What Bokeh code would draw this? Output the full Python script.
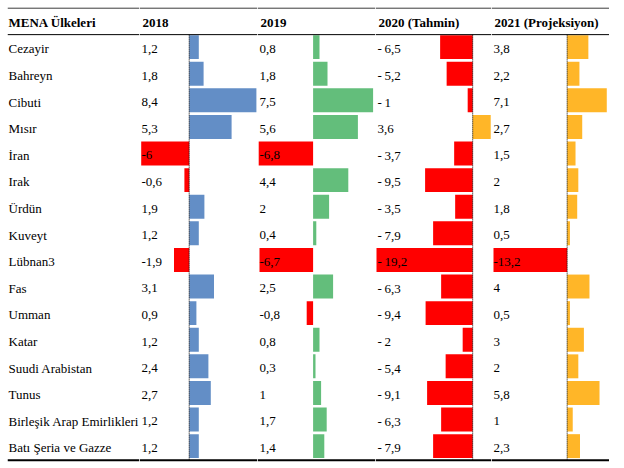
from bokeh.plotting import figure
from bokeh.models import Range1d, Span, ColumnDataSource
from bokeh.layouts import row
from bokeh.core.properties import value
from bokeh.embed import file_html
from bokeh.resources import INLINE

countries = ["Cezayir", "Bahreyn", "Cibuti", "Mısır", "İran", "Irak", "Ürdün", "Kuveyt",
             "Lübnan3", "Fas", "Umman", "Katar", "Suudi Arabistan", "Tunus",
             "Birleşik Arap Emirlikleri", "Batı Şeria ve Gazze"]
v2018 = [1.2, 1.8, 8.4, 5.3, -6, -0.6, 1.9, 1.2, -1.9, 3.1, 0.9, 1.2, 2.4, 2.7, 1.2, 1.2]
v2019 = [0.8, 1.8, 7.5, 5.6, -6.8, 4.4, 2, 0.4, -6.7, 2.5, -0.8, 0.8, 0.3, 1, 1.7, 1.4]
v2020 = [-6.5, -5.2, -1, 3.6, -3.7, -9.5, -3.5, -7.9, -19.2, -6.3, -9.4, -2, -5.4, -9.1, -6.3, -7.9]
v2021 = [3.8, 2.2, 7.1, 2.7, 1.5, 2, 1.8, 0.5, -13.2, 4, 0.5, 3, 2, 5.8, 1, 2.3]
headers = ["MENA Ülkeleri", "2018", "2019", "2020 (Tahmin)", "2021 (Projeksiyon)"]

FONT = "Liberation Serif"
FS = "13px"
PITCH = 26.6
H = 456
N = len(countries)
Y_TOP = -0.02
Y_BOT = Y_TOP + H / PITCH
ys = [i + 1.5 for i in range(N)]
NEG = "#FF0000"


def base_fig(width, x_range):
    p = figure(width=width, height=H, x_range=x_range, y_range=Range1d(Y_BOT, Y_TOP),
               output_backend="svg", toolbar_location=None, min_border=0,
               background_fill_color="white", border_fill_color="white")
    p.outline_line_color = None
    p.axis.visible = False
    p.grid.visible = False
    p.add_layout(Span(location=0, dimension="width", line_color="black", line_width=1))
    p.add_layout(Span(location=1, dimension="width", line_color="black", line_width=1))
    p.add_layout(Span(location=N + 1, dimension="width", line_color="black", line_width=2))
    return p


def fmt(v, spaced=False):
    s = f"{v:g}".replace(".", ",")
    if spaced and v < 0:
        s = "-\u2009" + s[1:]
    return s


# label column
lab = base_fig(132, Range1d(0, 132))
lab.text(x=[0] * N, y=ys, text=countries, text_font=value(FONT), text_font_size=FS,
         text_baseline="middle", x_offset=1, y_offset=1, text_color="black")
lab.text(x=[0], y=[0.5], text=[headers[0]], text_font=value(FONT), text_font_size=FS,
         text_font_style="bold", text_baseline="middle", x_offset=1, y_offset=1.5, text_color="black")


def year_col(vals, title, pos_color, width, scale, pad_px, show_axis=True, spaced=False):
    lo = min(min(vals), 0) - pad_px / scale
    hi = lo + width / scale
    p = base_fig(width, Range1d(lo, hi))
    colors = [pos_color if v >= 0 else NEG for v in vals]
    src = ColumnDataSource(dict(y=[y - 0.03 for y in ys], v=vals, c=colors,
                                t=[fmt(v, spaced) for v in vals], x=[lo] * N, ty=ys))
    p.hbar(y="y", left=0, right="v", height=0.9, fill_color="c", line_color=None, source=src)
    if show_axis:
        p.segment(x0=[0], y0=[1], x1=[0], y1=[N + 1], line_color="black", line_width=1,
                  line_dash="1 1")
    p.text(x="x", y="ty", text="t", source=src, text_font=value(FONT), text_font_size=FS,
           text_baseline="middle", x_offset=2, y_offset=1, text_color="black")
    p.text(x=[lo], y=[0.5], text=[title], text_font=value(FONT), text_font_size=FS,
           text_font_style="bold", text_baseline="middle", x_offset=3, y_offset=1.5,
           text_color="black")
    return p


c18 = year_col(v2018, headers[1], "#638EC6", 118, 8.0, 1.7)
c19 = year_col(v2019, headers[2], "#63BE7B", 118, 8.0, 1.2, show_axis=False)
c20 = year_col(v2020, headers[3], "#FFB628", 116, 5.01, 1.0, spaced=True)
c21 = year_col(v2021, headers[4], "#FFB628", 118, 5.58, 2.0)

layout = row(lab, c18, c19, c20, c21, spacing=0, margin=(7, 0, 0, 7))
open("out.html", "w").write(file_html(layout, INLINE))
